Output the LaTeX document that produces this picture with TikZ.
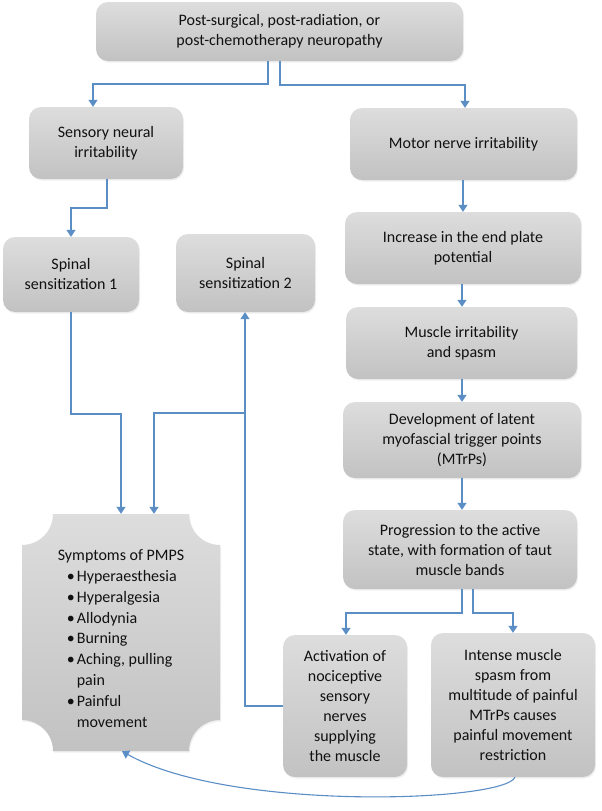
\documentclass[tikz,border=0pt]{standalone}
\usepackage{fontspec}
\setmainfont{Carlito}
\usetikzlibrary{arrows.meta,shadows}
\definecolor{boxtop}{HTML}{DDDDDD}
\definecolor{boxbot}{HTML}{C2C2C2}
\definecolor{arr}{HTML}{5B8EC5}
\definecolor{txt}{HTML}{111111}
\tikzset{
  gbox/.style={rounded corners=12pt, top color=boxtop, bottom color=boxbot,
    align=center, text=txt, inner sep=2pt,
    font=\fontsize{16}{20}\selectfont,
    drop shadow={opacity=0.12, shadow xshift=1pt, shadow yshift=-1.5pt}},
  conn/.style={draw=arr, line width=1.3pt, -{Triangle[width=9pt,length=7pt]}},
  plain/.style={draw=arr, line width=1.3pt}
}
\begin{document}
\begin{tikzpicture}[x=1pt,y=-1pt]
\useasboundingbox (0,0) rectangle (602,811);
\fill[white] (0,0) rectangle (602,811);

% boxes
\node[gbox, minimum width=367pt, minimum height=59pt] (top) at (279.5,31.5)
  {Post-surgical, post-radiation, or\\post-chemotherapy neuropathy};
\node[gbox, minimum width=154pt, minimum height=72pt] (sens) at (106,143)
  {Sensory neural\\irritability};
\node[gbox, minimum width=227pt, minimum height=72pt] (motor) at (463.5,144)
  {Motor nerve irritability};
\node[gbox, minimum width=136pt, minimum height=75pt] (sp1) at (71,274.5)
  {Spinal\\sensitization 1};
\node[gbox, minimum width=139pt, minimum height=78pt] (sp2) at (245.5,273)
  {Spinal\\sensitization 2};
\node[gbox, minimum width=236pt, minimum height=72pt] (inc) at (463,248)
  {Increase in the end plate\\potential};
\node[gbox, minimum width=231pt, minimum height=72pt] (musc) at (461.5,343)
  {Muscle irritability\\and spasm};
\node[gbox, minimum width=238pt, minimum height=76pt] (dev) at (462,440)
  {Development of latent\\myofascial trigger points\\(MTrPs)};
\node[gbox, minimum width=234pt, minimum height=79pt] (prog) at (460,549.5)
  {Progression to the active\\state, with formation of taut\\muscle bands};
\node[gbox, minimum width=124pt, minimum height=142pt] (act) at (345,706)
  {Activation of\\nociceptive\\sensory\\nerves\\supplying\\the muscle};
\node[gbox, minimum width=164pt, minimum height=144pt] (int) at (513,705)
  {Intense muscle\\spasm from\\multitude of painful\\MTrPs causes\\painful movement\\restriction};

% symptoms box with concave corners
\node[minimum width=198pt, minimum height=237pt, inner sep=0pt] (symp) at (121,632.5) {};
\def\rr{31}
\shade[top color=boxtop, bottom color=boxbot,
  drop shadow={opacity=0.12, shadow xshift=1pt, shadow yshift=-1.5pt}]
  (22+\rr,514) -- (220-\rr,514)
  .. controls (220-\rr,514+0.552*\rr) and (220-0.552*\rr,514+\rr) .. (220,514+\rr)
  -- (220,751-\rr)
  .. controls (220-0.552*\rr,751-\rr) and (220-\rr,751-0.552*\rr) .. (220-\rr,751)
  -- (22+\rr,751)
  .. controls (22+\rr,751-0.552*\rr) and (22+0.552*\rr,751-\rr) .. (22,751-\rr)
  -- (22,514+\rr)
  .. controls (22+0.552*\rr,514+\rr) and (22+\rr,514+0.552*\rr) .. (22+\rr,514)
  -- cycle;
\newcommand{\bul}[1]{\hspace*{9pt}\makebox[10pt][l]{\textbullet}#1}
\newcommand{\cont}[1]{\hspace*{19pt}#1}
\node[align=left, text=txt, inner sep=0pt, font=\fontsize{16}{20.9}\selectfont] (symptxt) at (121,638.5)
  {Symptoms of PMPS\\
   \bul{Hyperaesthesia}\\
   \bul{Hyperalgesia}\\
   \bul{Allodynia}\\
   \bul{Burning}\\
   \bul{Aching, pulling}\\
   \cont{pain}\\
   \bul{Painful}\\
   \cont{movement}};

% connectors
\draw[conn] (top.south -| 268,0) |- (93,84) -- (sens.north -| 93,0);
\draw[conn] (top.south -| 280,0) |- (465,85) -- (motor.north -| 465,0);
\draw[conn] (sens.south -| 107,0) |- (71,208) -- (sp1.north);
\draw[conn] (motor.south -| 463,0) -- (inc.north -| 463,0);
\draw[conn] (inc.south -| 462,0) -- (musc.north -| 462,0);
\draw[conn] (musc.south -| 462,0) -- (dev.north -| 462,0);
\draw[conn] (dev.south -| 462,0) -- (prog.north -| 462,0);
\draw[conn] (prog.south -| 462,0) |- (346,613) -- (act.north -| 346,0);
\draw[conn] (prog.south -| 473,0) |- (513,613) -- (int.north -| 513,0);
\draw[conn] (sp1.south) |- (121,414) -- (symp.north -| 121,0);
\coordinate (jn) at (245,413);
\draw[conn] (act.west) -| (sp2.south -| 245,0);
\draw[conn] (jn) -| (symp.north -| 154,0);
\draw[conn, line width=1.1pt] (int.south -| 515,0) .. controls (505,802) and (230,812) .. (symp.south -| 122,0);
\end{tikzpicture}
\end{document}
